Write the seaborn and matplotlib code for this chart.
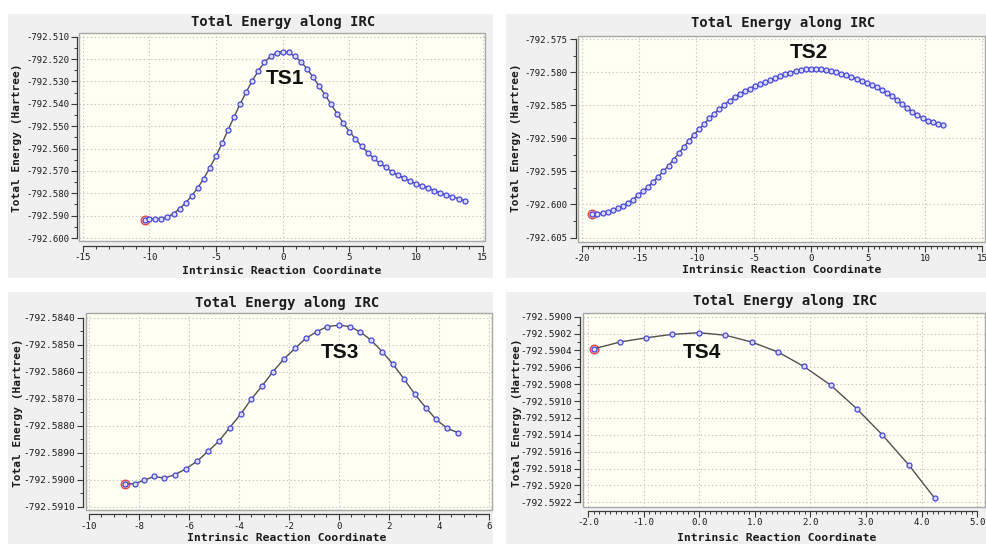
import matplotlib
matplotlib.use("Agg")
import numpy as np
import pandas as pd
import matplotlib.pyplot as plt
import seaborn as sns
from matplotlib.patches import Rectangle
from matplotlib.ticker import FixedLocator

# ---------------- data ----------------
ts1_x = [-10.35, -10.01, -9.56, -9.10, -8.65, -8.19, -7.74, -7.28, -6.83, -6.37, -5.92, -5.46,
         -5.01, -4.55, -4.10, -3.64, -3.19, -2.73, -2.28, -1.82, -1.37, -0.91, -0.46, 0.00,
         0.46, 0.91, 1.37, 1.82, 2.28, 2.73, 3.19, 3.64, 4.10, 4.55, 5.01, 5.46, 5.92, 6.37,
         6.83, 7.28, 7.74, 8.19, 8.65, 9.10, 9.56, 10.01, 10.47, 10.92, 11.38, 11.83, 12.29,
         12.74, 13.20, 13.65]
ts1_e = [-792.5919, -792.5913, -792.5917, -792.5913, -792.5906, -792.5891, -792.5869, -792.5843,
         -792.5812, -792.5776, -792.5734, -792.5686, -792.5634, -792.5577, -792.5517, -792.5458,
         -792.5401, -792.5347, -792.5297, -792.5252, -792.5215, -792.5188, -792.5172, -792.5167,
         -792.5170, -792.5188, -792.5212, -792.5243, -792.5281, -792.5321, -792.5361, -792.5403,
         -792.5445, -792.5487, -792.5524, -792.5557, -792.5590, -792.5618, -792.5643, -792.5666,
         -792.5684, -792.5704, -792.5719, -792.5733, -792.5746, -792.5757, -792.5767, -792.5777,
         -792.5788, -792.5798, -792.5807, -792.5815, -792.5824, -792.5833]

ts2_x = [-19.09, -18.65, -18.20, -17.76, -17.32, -16.87, -16.43, -15.98, -15.54, -15.10,
         -14.65, -14.21, -13.76, -13.32, -12.88, -12.43, -11.99, -11.54, -11.10, -10.66,
         -10.21, -9.77, -9.32, -8.88, -8.44, -7.99, -7.55, -7.10, -6.66, -6.22, -5.77,
         -5.33, -4.88, -4.44, -4.00, -3.55, -3.11, -2.66, -2.22, -1.78, -1.33, -0.89, -0.44,
         0.00, 0.44, 0.89, 1.33, 1.78, 2.22, 2.66, 3.11, 3.55, 4.00, 4.44, 4.88, 5.33, 5.77,
         6.22, 6.66, 7.10, 7.55, 7.99, 8.44, 8.88, 9.32, 9.77, 10.21, 10.66, 11.10, 11.54, 11.60]
ts2_x = ts2_x[:70]
ts2_e = [-792.60150, -792.60140, -792.60128, -792.60111, -792.60085, -792.60055, -792.60020,
         -792.59975, -792.59925, -792.59859, -792.59794, -792.59729, -792.59653, -792.59578,
         -792.59497, -792.59412, -792.59322, -792.59226, -792.59131, -792.59040, -792.58945,
         -792.58864, -792.58784, -792.58700, -792.58628, -792.58558, -792.58492, -792.58432,
         -792.58377, -792.58330, -792.58286, -792.58248, -792.58213, -792.58183, -792.58153,
         -792.58122, -792.58092, -792.58062, -792.58034, -792.58008, -792.57986, -792.57968,
         -792.57955, -792.57948,
         -792.57950, -792.57960, -792.57970, -792.57985, -792.58005, -792.58025, -792.58050,
         -792.58070, -792.58101, -792.58131, -792.58161, -792.58196, -792.58231, -792.58271,
         -792.58317, -792.58367, -792.58422, -792.58482, -792.58543, -792.58598, -792.58653,
         -792.58693, -792.58734, -792.58759, -792.58779, -792.58794]

ts3_x = [-8.56, -8.16, -7.79, -7.40, -6.99, -6.56, -6.13, -5.67, -5.24, -4.80, -4.37, -3.93,
         -3.51, -3.07, -2.64, -2.20, -1.76, -1.33, -0.89, -0.47, 0.00, 0.43, 0.85, 1.28, 1.73,
         2.16, 2.60, 3.04, 3.47, 3.89, 4.33, 4.77]
ts3_e = [-792.59017, -792.59014, -792.59002, -792.58988, -792.58994, -792.58981, -792.58960,
         -792.58931, -792.58895, -792.58857, -792.58807, -792.58757, -792.58702, -792.58652,
         -792.58600, -792.58553, -792.58514, -792.58477, -792.58452, -792.58433, -792.58428,
         -792.58433, -792.58453, -792.58483, -792.58526, -792.58572, -792.58627, -792.58684,
         -792.58733, -792.58777, -792.58810, -792.58826]

ts4_x = [-1.89, -1.42, -0.95, -0.49, 0.00, 0.47, 0.94, 1.42, 1.88, 2.36, 2.83, 3.29, 3.77, 4.23]
ts4_e = [-792.59038, -792.59030, -792.59025, -792.59021, -792.59019, -792.59022, -792.59030,
         -792.59042, -792.59059, -792.59081, -792.59109, -792.59140, -792.59176, -792.59215]

ts_labels = ["TS1", "TS2", "TS3", "TS4"]
title_text = "Total Energy along IRC"
xlabel_text = "Intrinsic Reaction Coordinate"
ylabel_text = "Total Energy (Hartree)"

ts1_xticks = [-15, -10, -5, 0, 5, 10, 15]
ts2_xticks = [-20, -15, -10, -5, 0, 5, 10, 15]
ts3_xticks = [-10, -8, -6, -4, -2, 0, 2, 4, 6]
ts4_xticks = [-2.0, -1.0, 0.0, 1.0, 2.0, 3.0, 4.0, 5.0]
ts1_yticks = [-792.510, -792.520, -792.530, -792.540, -792.550, -792.560, -792.570,
              -792.580, -792.590, -792.600]
ts2_yticks = [-792.575, -792.580, -792.585, -792.590, -792.595, -792.600, -792.605]
ts3_yticks = [-792.5840, -792.5850, -792.5860, -792.5870, -792.5880, -792.5890, -792.5900,
              -792.5910]
ts4_yticks = [-792.5900, -792.5902, -792.5904, -792.5906, -792.5908, -792.5910, -792.5912,
              -792.5914, -792.5916, -792.5918, -792.5920, -792.5922]

# ---------------- style ----------------
sns.set_theme(style="white")
plt.rcParams["font.family"] = ["DejaVu Sans Mono", "DejaVu Sans"]

W, H = 986, 544
fig = plt.figure(figsize=(W / 100, H / 100), dpi=100)
fig.patch.set_facecolor("white")

BG = "#f0f0f0"
PLOT_BG = "#fffff4"
TXT = "#1c1c1c"
AX = "#3a3a3a"

panels = [
    dict(x=ts1_x, e=ts1_e, label=ts_labels[0], lpos=(0.17, -792.5287),
         bg=(8, 14, 493, 278), plot=(79, 33.3, 485, 240.7),
         xlim=(-15.28, 15.18), ylim=(-792.6012, -792.5085),
         xt=ts1_xticks, xfmt="{:.0f}", xminor=1.0,
         yt=ts1_yticks, yfmt="{:.3f}", yminor=0.005, ysize=6.5,
         off=(1.8, 5.0), title=(283, 21.7), xl=(281.7, 270.7), yl=(16.7, 138)),
    dict(x=ts2_x, e=ts2_e, label=ts_labels[1], lpos=(-0.16, -792.57706),
         bg=(506, 14, 986, 278), plot=(578, 35.7, 985, 241.7),
         xlim=(-20.35, 15.23), ylim=(-792.60562, -792.5745),
         xt=ts2_xticks, xfmt="{:.0f}", xminor=0.5,
         yt=ts2_yticks, yfmt="{:.3f}", yminor=0.0025, ysize=6.5,
         off=(2.3, 4.3), title=(783, 23.5), xl=(781.3, 270), yl=(515.7, 138)),
    dict(x=ts3_x, e=ts3_e, label=ts_labels[2], lpos=(0.04, -792.5853),
         bg=(8, 291.7, 493, 544), plot=(86, 313.3, 491.7, 510),
         xlim=(-10.12, 6.11), ylim=(-792.59112, -792.58384),
         xt=ts3_xticks, xfmt="{:.0f}", xminor=0.5,
         yt=ts3_yticks, yfmt="{:.4f}", yminor=0.0005, ysize=6.8,
         off=(2.7, 4.3), title=(287, 302.7), xl=(287, 538), yl=(18.3, 413)),
    dict(x=ts4_x, e=ts4_e, label=ts_labels[3], lpos=(0.04, -792.59043),
         bg=(506, 291.7, 986, 544), plot=(583, 313.3, 985, 507.3),
         xlim=(-2.089, 5.137), ylim=(-792.59226, -792.58996),
         xt=ts4_xticks, xfmt="{:.1f}", xminor=0.1,
         yt=ts4_yticks, yfmt="{:.4f}", yminor=0.0001, ysize=6.8,
         off=(2.7, 3.5), title=(784.7, 301), xl=(776.3, 538.3), yl=(517, 413)),
]


def minor_positions(lo, hi, step):
    n0 = int(np.ceil(lo / step - 1e-6))
    n1 = int(np.floor(hi / step + 1e-6))
    return [k * step for k in range(n0, n1 + 1)]


for p in panels:
    x0, y0, x1, y1 = p["bg"]
    fig.add_artist(Rectangle((x0 / W, 1 - y1 / H), (x1 - x0) / W, (y1 - y0) / H,
                             transform=fig.transFigure, facecolor=BG,
                             edgecolor="none", zorder=-5))
    l, t, r, b = p["plot"]
    ax = fig.add_axes([l / W, 1 - b / H, (r - l) / W, (b - t) / H])
    ax.set_facecolor(PLOT_BG)

    df = pd.DataFrame({"irc": p["x"], "energy": p["e"]})
    # highlighted (current) point
    sns.scatterplot(data=df.iloc[[0]], x="irc", y="energy", ax=ax, s=38,
                    color=(1.0, 0.55, 0.55, 0.35), edgecolor="#e04848",
                    linewidth=1.0, zorder=1.5)
    sns.lineplot(data=df, x="irc", y="energy", ax=ax, sort=False, errorbar=None,
                 color="#505050", lw=1.0, marker="o", markersize=3.6,
                 markeredgecolor="#4646dc", markerfacecolor="#dcdcf8",
                 markeredgewidth=0.9, zorder=3)

    ax.set_xlim(*p["xlim"])
    ax.set_ylim(*p["ylim"])
    ax.set_xlabel("")
    ax.set_ylabel("")

    ax.set_xticks(p["xt"])
    ax.set_xticklabels([p["xfmt"].format(v) for v in p["xt"]])
    ax.set_yticks(p["yt"])
    ax.set_yticklabels([p["yfmt"].format(v) for v in p["yt"]])
    ax.xaxis.set_minor_locator(FixedLocator(
        minor_positions(min(p["xt"]), max(p["xt"]), p["xminor"])))
    ax.yaxis.set_minor_locator(FixedLocator(
        minor_positions(min(p["yt"]), max(p["yt"]), p["yminor"])))

    ax.grid(True, which="major", linestyle=(0, (1.2, 2.2)), color="#c4c4c4", lw=0.8)
    ax.tick_params(axis="both", which="major", direction="out", length=4.2, width=0.8,
                   color=AX, labelcolor=TXT, bottom=True, left=True)
    ax.tick_params(axis="both", which="minor", direction="out", length=2.3, width=0.7,
                   color=AX, bottom=True, left=True)
    ax.tick_params(axis="x", which="major", labelsize=6.6, pad=1.2)
    ax.tick_params(axis="y", which="major", labelsize=p["ysize"], pad=1.5)

    for s in ["top", "right"]:
        ax.spines[s].set_visible(False)
    ax.spines["left"].set_position(("outward", p["off"][0] * 0.72))
    ax.spines["bottom"].set_position(("outward", p["off"][1] * 0.72))
    ax.spines["left"].set_bounds(min(p["yt"]), max(p["yt"]))
    ax.spines["bottom"].set_bounds(min(p["xt"]), max(p["xt"]))
    for s in ["left", "bottom"]:
        ax.spines[s].set_color(AX)
        ax.spines[s].set_linewidth(0.9)
    ax.add_patch(Rectangle((0, 0), 1, 1, transform=ax.transAxes, fill=False,
                           edgecolor="#a8a8a8", lw=1.0, clip_on=False, zorder=4))

    ax.text(p["lpos"][0], p["lpos"][1], p["label"], ha="center", va="center",
            fontsize=15, fontweight="bold", color="#111111",
            family=["Liberation Sans", "DejaVu Sans"], zorder=5)

    tx, ty = p["title"]
    fig.text(tx / W, 1 - ty / H, title_text, ha="center", va="center",
             fontsize=10, fontweight="bold", color=TXT)
    xx, xy = p["xl"]
    fig.text(xx / W, 1 - xy / H, xlabel_text, ha="center", va="center",
             fontsize=8.2, fontweight="bold", color=TXT)
    yx, yy = p["yl"]
    fig.text(yx / W, 1 - yy / H, ylabel_text, ha="center", va="center",
             rotation=90, fontsize=8.0, fontweight="bold", color=TXT)

fig.savefig("out.png", dpi=100, facecolor="white")
